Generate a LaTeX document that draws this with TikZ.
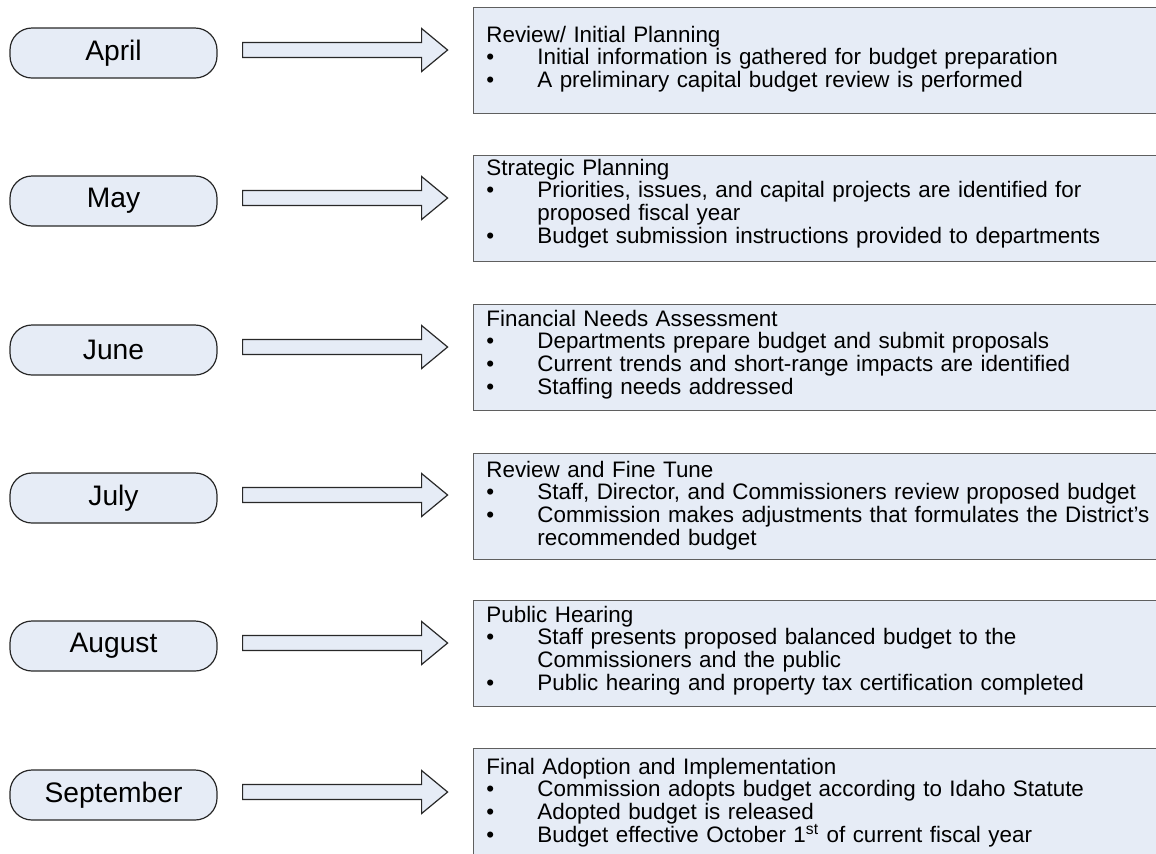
\documentclass[tikz,border=0pt]{standalone}
\usepackage{fontspec}
\setmainfont{Liberation Sans}
\usetikzlibrary{calc}
\definecolor{boxfill}{RGB}{230,236,246}
\definecolor{boxline}{RGB}{95,95,95}
\definecolor{pillline}{RGB}{40,40,40}
% bullet line with hanging indent
\newcommand\bul{\par\noindent\hangindent=25.5pt\hangafter=1\makebox[25.5pt][l]{\textbullet}}
\begin{document}
\begin{tikzpicture}[x=0.5pt,y=-0.5pt]
	\tikzstyle{month}=[rounded corners=11pt,draw=pillline,fill=boxfill,line width=0.6pt,minimum width=103.5pt,minimum height=25pt,inner sep=0pt,font=\fontsize{14.1}{16}\selectfont]
	\tikzstyle{phase}=[rectangle,draw=boxline,fill=boxfill,line width=0.7pt,anchor=north west,minimum width=345pt,minimum height=53pt,inner sep=0pt]
	\tikzstyle{note}=[anchor=base west,inner sep=0pt,text width=400pt,align=left,font=\fontsize{11.2}{11.4}\selectfont]
	\tikzstyle{blockarrow}=[draw=pillline,fill=boxfill,line width=0.6pt,line join=miter]
	\useasboundingbox (0,0) rectangle (1156,853);
	\clip (0,0) rectangle (1156,853);
	%\fill[white] (0,0) rectangle (1156,853);
	\node[month] (m1) at (113.5,53) {April};
	\node[month] (m2) at (113.5,201) {May};
	\node[month] (m3) at (113.5,350) {June};
	\node[month] (m4) at (113.5,498) {July};
	\node[month] (m5) at (113.5,646) {August};
	\node[month] (m6) at (113.5,795) {September};
	\node[phase] (p1) at (472.7,7) {};
	\node[phase] (p2) at (472.7,155) {};
	\node[phase] (p3) at (472.7,304) {};
	\node[phase] (p4) at (472.7,453) {};
	\node[phase] (p5) at (472.7,600) {};
	\node[phase] (p6) at (472.7,748) {};
	\node[note] (n1) at (486,42) {Review/ Initial Planning
		\bul Initial information is gathered for budget preparation
		\bul A preliminary capital budget review is performed\par};
	\node[note] (n2) at (486,175) {Strategic Planning
		\bul Priorities, issues, and capital projects are identified for\newline proposed fiscal year
		\bul Budget submission instructions provided to departments\par};
	\node[note] (n3) at (486,326) {Financial Needs Assessment
		\bul Departments prepare budget and submit proposals
		\bul Current trends and short-range impacts are identified
		\bul Staffing needs addressed\par};
	\node[note] (n4) at (486,477) {Review and Fine Tune
		\bul Staff, Director, and Commissioners review proposed budget
		\bul Commission makes adjustments that formulates the District’s\newline recommended budget\par};
	\node[note] (n5) at (486,622) {Public Hearing
		\bul Staff presents proposed balanced budget to the\newline Commissioners and the public
		\bul Public hearing and property tax certification completed\par};
	\node[note] (n6) at (486,774) {Final Adoption and Implementation
		\bul Commission adopts budget according to Idaho Statute
		\bul Adopted budget is released
		\bul Budget effective October 1\textsuperscript{st} of current fiscal year\par};
	\foreach \i in {1,...,6}
		\draw[blockarrow] ($(m\i.east)+(25,-3)$) ++(0,-7.5) -- ++(179,0) -- ++(0,-14) -- ++(26,21.5) -- ++(-26,21.5) -- ++(0,-14) -- ++(-179,0) -- cycle;
\end{tikzpicture}
\end{document}
